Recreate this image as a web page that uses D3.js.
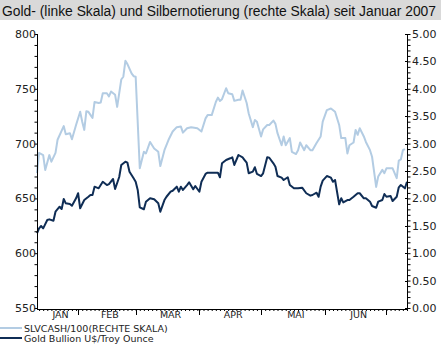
<!DOCTYPE html>
<html><head><meta charset="utf-8">
<script src="https://cdn.jsdelivr.net/npm/d3@7"></script>
<style>
body{margin:0;padding:0;background:#fff;}
svg{display:block;}
text{font-family:"DejaVu Sans",sans-serif;}
</style></head>
<body>
<svg id="chart" width="441" height="346"></svg>
<script>
const titleText = "Gold- (linke Skala) und Silbernotierung (rechte Skala) seit Januar 2007";
const legendLabels = ["SLVCASH/100(RECHTE SKALA)", "Gold Bullion U$/Troy Ounce"];
const monthLabels = ["JAN","FEB","MAR","APR","MAI","JUN"];
const leftTicks = [550,600,650,700,750,800];
const rightTicks = [0,0.5,1,1.5,2,2.5,3,3.5,4,4.5,5];

const goldDates = ["2007-01-12","2007-01-13","2007-01-14","2007-01-15","2007-01-17","2007-01-18","2007-01-20","2007-01-21","2007-01-23","2007-01-24","2007-01-25","2007-01-26","2007-01-28","2007-01-29","2007-01-31",
"2007-02-01","2007-02-02","2007-02-04","2007-02-06","2007-02-07","2007-02-08","2007-02-09","2007-02-11","2007-02-12","2007-02-13","2007-02-15","2007-02-16","2007-02-18","2007-02-19","2007-02-21","2007-02-22","2007-02-24","2007-02-25","2007-02-26","2007-02-28",
"2007-03-01","2007-03-02","2007-03-03","2007-03-05","2007-03-06","2007-03-08","2007-03-10","2007-03-12","2007-03-13","2007-03-15","2007-03-16","2007-03-18","2007-03-19","2007-03-21","2007-03-22","2007-03-23","2007-03-24","2007-03-26","2007-03-27","2007-03-29","2007-03-30",
"2007-04-01","2007-04-02","2007-04-04","2007-04-05","2007-04-09","2007-04-10","2007-04-11","2007-04-12","2007-04-14","2007-04-16","2007-04-17","2007-04-18","2007-04-20","2007-04-22","2007-04-23","2007-04-24","2007-04-25","2007-04-27","2007-04-28","2007-04-29",
"2007-05-01","2007-05-02","2007-05-04","2007-05-05","2007-05-07","2007-05-08","2007-05-09","2007-05-11","2007-05-12","2007-05-14","2007-05-15","2007-05-17","2007-05-19","2007-05-21","2007-05-23","2007-05-25","2007-05-26","2007-05-28","2007-05-29","2007-05-30","2007-05-31",
"2007-06-02","2007-06-04","2007-06-05","2007-06-06","2007-06-08","2007-06-09","2007-06-10","2007-06-12","2007-06-13","2007-06-15","2007-06-17","2007-06-18","2007-06-20","2007-06-21","2007-06-23","2007-06-24","2007-06-26","2007-06-27","2007-06-29","2007-06-30",
"2007-07-01","2007-07-03","2007-07-04","2007-07-06","2007-07-07","2007-07-08","2007-07-10","2007-07-11"];
const goldValues = [618.2,622.7,624.8,622.7,630.3,630.9,629.6,637.9,642.4,640.3,649.5,645.5,644.9,643.3,650.1,
654.7,641.0,648.5,651.5,653.1,653.1,660.7,659.2,662.2,665.2,662.2,663.1,667.7,658.6,669.5,680.5,683.5,682.6,674.4,668.3,
665.2,657.7,641.9,640.1,647.0,650.1,649.2,645.5,637.9,648.5,651.5,656.1,657.0,660.7,656.1,660.7,657.7,662.2,664.7,658.3,661.3,
656.1,665.2,672.3,673.5,673.5,673.5,669.3,682.0,685.0,686.6,687.5,680.5,689.6,687.5,685.0,682.6,672.9,674.4,678.4,672.3,
670.4,672.9,687.5,687.1,682.0,678.9,670.4,668.9,666.8,669.3,662.2,659.2,659.2,659.8,654.7,652.5,653.1,655.2,651.5,660.7,666.2,
670.4,668.9,665.2,666.8,644.6,650.1,646.4,648.5,648.5,651.5,654.7,654.7,650.1,650.1,647.0,643.1,641.5,647.0,648.5,654.0,
651.5,652.2,647.6,651.5,660.1,662.2,659.2,665.2];

const silverDates = ["2007-01-12","2007-01-13","2007-01-15","2007-01-16","2007-01-18","2007-01-19","2007-01-21","2007-01-22","2007-01-25","2007-01-26","2007-01-28","2007-01-29","2007-01-31",
"2007-02-02","2007-02-03","2007-02-04","2007-02-05","2007-02-06","2007-02-08","2007-02-09","2007-02-11","2007-02-12","2007-02-13","2007-02-15","2007-02-16","2007-02-17","2007-02-19","2007-02-20","2007-02-22","2007-02-23","2007-02-24","2007-02-25","2007-02-27","2007-02-28",
"2007-03-01","2007-03-03","2007-03-05","2007-03-06","2007-03-08","2007-03-10","2007-03-12","2007-03-13","2007-03-15","2007-03-17","2007-03-19","2007-03-21","2007-03-23","2007-03-24","2007-03-26","2007-03-28","2007-03-31",
"2007-04-02","2007-04-04","2007-04-05","2007-04-07","2007-04-09","2007-04-10","2007-04-11","2007-04-12","2007-04-14","2007-04-15","2007-04-17","2007-04-18","2007-04-20","2007-04-21","2007-04-22","2007-04-24","2007-04-25","2007-04-27","2007-04-28","2007-04-29",
"2007-05-01","2007-05-02","2007-05-04","2007-05-05","2007-05-07","2007-05-08","2007-05-09","2007-05-11","2007-05-12","2007-05-13","2007-05-15","2007-05-16","2007-05-18","2007-05-19","2007-05-20","2007-05-22","2007-05-23","2007-05-25","2007-05-26","2007-05-28","2007-05-30","2007-05-31",
"2007-06-02","2007-06-04","2007-06-06","2007-06-08","2007-06-09","2007-06-11","2007-06-12","2007-06-13","2007-06-15","2007-06-16","2007-06-17","2007-06-18","2007-06-20","2007-06-21","2007-06-23","2007-06-24","2007-06-26","2007-06-27","2007-06-29","2007-06-30",
"2007-07-01","2007-07-04","2007-07-06","2007-07-07","2007-07-08","2007-07-09","2007-07-10"];
const silverValues = [2.46,2.83,2.79,2.52,2.79,2.67,2.83,3.07,3.32,3.17,3.19,3.08,3.34,
3.58,3.40,3.25,3.59,3.58,3.47,3.76,3.74,3.75,3.92,3.92,3.86,3.95,3.89,3.67,4.17,4.22,4.51,4.45,4.28,4.23,
4.22,2.55,2.85,2.82,3.03,2.91,2.85,2.59,2.88,3.07,3.22,3.30,3.31,3.20,3.28,3.30,3.28,
3.22,3.46,3.52,3.52,3.76,3.84,3.78,3.81,4.01,3.92,3.90,3.78,3.80,3.80,3.97,3.74,3.55,3.30,3.43,3.40,
3.13,3.26,3.34,3.34,3.42,3.36,3.19,2.97,3.13,2.97,3.10,2.85,2.81,2.88,3.02,2.88,2.97,2.88,2.88,3.01,3.13,3.40,
3.61,3.64,3.58,3.34,3.10,3.10,2.82,2.97,3.02,3.25,3.16,3.28,3.13,3.03,2.88,2.76,2.21,2.40,2.52,2.46,2.55,
2.55,2.37,2.69,2.71,2.88,2.90];

const xDomain = ["2007-01-12","2007-07-11"];
const monthStarts = ["2007-01-01","2007-02-01","2007-03-01","2007-04-01","2007-05-01","2007-06-01","2007-07-01"];

const parse = d3.timeParse("%Y-%m-%d");
const svg = d3.select("#chart");
const W = 441, H = 346;
const L = 37, R = 407, T = 34, B = 308;

const silverColor = "#b3cce3", goldColor = "#0f2d55";

// title band
svg.append("rect").attr("x",0).attr("y",0).attr("width",W).attr("height",20).attr("fill","#d9d9d9");
svg.append("text").attr("x",2).attr("y",16).text(titleText)
  .style("font-family","'Liberation Sans',Arial,sans-serif").style("font-size","14px").attr("fill","#111")
  .attr("textLength",434).attr("lengthAdjust","spacingAndGlyphs");

const x = d3.scaleTime().domain(xDomain.map(parse)).range([L,R]);
const yL = d3.scaleLinear().domain([550,800]).range([B,T]);
const yR = d3.scaleLinear().domain([0,5]).range([B,T]);

const gold = goldDates.map((d,i)=>({d:parse(d),v:goldValues[i]}));
const silver = silverDates.map((d,i)=>({d:parse(d),v:silverValues[i]}));

svg.append("path").datum(silver).attr("fill","none").attr("stroke",silverColor).attr("stroke-width",2)
  .attr("stroke-linejoin","round")
  .attr("d",d3.line().x(p=>x(p.d)).y(p=>yR(p.v)));
svg.append("path").datum(gold).attr("fill","none").attr("stroke",goldColor).attr("stroke-width",2)
  .attr("stroke-linejoin","round")
  .attr("d",d3.line().x(p=>x(p.d)).y(p=>yL(p.v)));

// left axis
const gL = svg.append("g").attr("transform",`translate(${L+0.5},0)`);
gL.call(d3.axisLeft(yL).tickValues(d3.range(550,801,10)).tickSize(3).tickFormat(""));
gL.call(g=>g.selectAll(".domain").remove());
svg.append("line").attr("x1",L+0.5).attr("x2",L+0.5).attr("y1",T).attr("y2",B+1).attr("stroke","#000");
leftTicks.forEach(v=>{
  svg.append("text").attr("x",L-1).attr("y",yL(v)+4).attr("text-anchor","end")
    .style("font-size","11px").attr("fill","#222").text(v);
});

// right axis
const gR = svg.append("g").attr("transform",`translate(${R+0.5},0)`);
gR.call(d3.axisRight(yR).tickValues(d3.range(0,51,1).map(v=>v/10)).tickSize(3).tickFormat(""));
gR.call(g=>g.selectAll(".domain").remove());
svg.append("line").attr("x1",R+0.5).attr("x2",R+0.5).attr("y1",T).attr("y2",B+1).attr("stroke","#000");
rightTicks.forEach(v=>{
  svg.append("line").attr("x1",R-2).attr("x2",R+0.5).attr("y1",Math.round(yR(v))+0.5).attr("y2",Math.round(yR(v))+0.5).attr("stroke","#000");
  svg.append("text").attr("x",R+5).attr("y",yR(v)+4)
    .style("font-size","11px").attr("fill","#222").text(d3.format(".2f")(v));
});

// bottom axis
svg.append("line").attr("x1",L).attr("x2",R+1).attr("y1",B+1.5).attr("y2",B+1.5).attr("stroke","#000");
const gB = svg.append("g").attr("transform",`translate(0,${B+1})`);
gB.call(d3.axisBottom(x).ticks(d3.timeDay.every(2)).tickSize(2).tickFormat(""));
gB.call(g=>g.selectAll(".domain").remove());
const ms = monthStarts.map(parse);
ms.forEach(m=>{
  if (m>=x.domain()[0]) svg.append("line").attr("x1",Math.round(x(m))+0.5).attr("x2",Math.round(x(m))+0.5)
    .attr("y1",B+1).attr("y2",B+7).attr("stroke","#000");
});
monthLabels.forEach((lab,i)=>{
  const a = Math.max(x(ms[i]),L), b = Math.min(x(ms[i+1]),R);
  svg.append("text").attr("x",(a+b)/2+3).attr("y",B+10).attr("text-anchor","middle")
    .style("font-size","9.5px").attr("fill","#222").text(lab);
});

// legend
[[silverColor,legendLabels[0],328],[goldColor,legendLabels[1],338]].forEach(([c,t,yy])=>{
  svg.append("line").attr("x1",0).attr("x2",22).attr("y1",yy).attr("y2",yy).attr("stroke",c).attr("stroke-width",2);
  svg.append("text").attr("x",24).attr("y",yy+3.5).style("font-size","9.5px").attr("fill","#222").text(t);
});
</script>
</body></html>
